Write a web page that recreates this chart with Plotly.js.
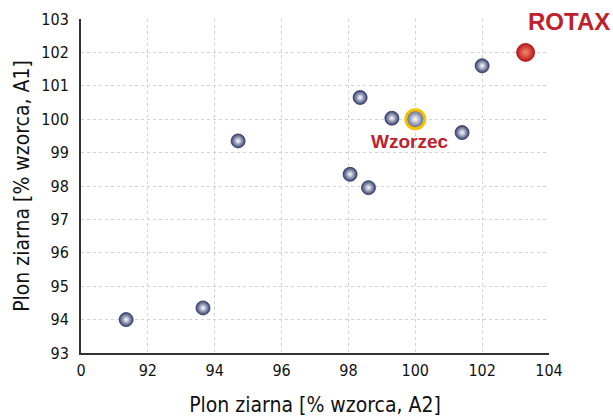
<!DOCTYPE html>
<html><head><meta charset="utf-8">
<script src="https://cdn.plot.ly/plotly-3.0.1.min.js"></script>
<style>body{margin:0;background:#fff}#c{width:613px;height:418px}</style>
</head><body><div id="c"></div>
<script>
const xVals = [91.35, 93.65, 94.7, 98.05, 98.6, 98.35, 99.3, 101.4, 102.0];
const yVals = [94.0, 94.35, 99.35, 98.35, 97.95, 100.65, 100.03, 99.6, 101.6];
const refX = [100.0], refY = [100.0], refLabel = ['Wzorzec'];
const rotX = [103.3], rotY = [102.0], rotLabel = ['ROTAX'];
const xTicks = [90, 92, 94, 96, 98, 100, 102, 104];
const xTickText = ['0', '92', '94', '96', '98', '100', '102', '104'];
const yTicks = [93, 94, 95, 96, 97, 98, 99, 100, 101, 102, 103];

const FONT = '"DejaVu Sans Condensed", "Liberation Sans Narrow", sans-serif';
const traces = [
  {x: xVals, y: yVals, mode: 'markers', type: 'scatter',
   marker: {size: 14, color: '#333f70', gradient: {type: 'radial', color: '#ffffff'},
            line: {color: '#2c3560', width: 0.8}}},
  {x: refX, y: refY, mode: 'markers', type: 'scatter',
   marker: {size: 19, color: '#4a5585', gradient: {type: 'radial', color: '#ffffff'},
            line: {color: '#f3c300', width: 3}}},
  {x: rotX, y: rotY, mode: 'markers', type: 'scatter',
   marker: {size: 18, color: '#c0151b', gradient: {type: 'radial', color: '#ee8a6a'},
            line: {color: '#a51015', width: 0.8}}}
];
const layout = {
  width: 613, height: 418, showlegend: false,
  margin: {l: 81, r: 64, t: 19, b: 65},
  paper_bgcolor: '#fff', plot_bgcolor: '#fff',
  font: {family: FONT, color: '#111'},
  xaxis: {range: [90, 104], tickvals: xTicks, ticktext: xTickText,
          showgrid: true, gridcolor: '#d2d2d2', griddash: 'dot', gridwidth: 1,
          showline: true, linecolor: '#333', linewidth: 2, zeroline: false,
          ticks: '', tickfont: {size: 16, family: FONT}, ticklabelstandoff: 2,
          title: {text: 'Plon ziarna [% wzorca, A2]', font: {size: 21, family: FONT}, standoff: 18}},
  yaxis: {range: [93, 103], tickvals: yTicks,
          showgrid: true, gridcolor: '#d2d2d2', griddash: 'dot', gridwidth: 1,
          showline: true, linecolor: '#333', linewidth: 2, zeroline: false,
          ticks: '', tickfont: {size: 16, family: FONT}, ticklabelstandoff: 7,
          title: {text: 'Plon ziarna [% wzorca, A1]', font: {size: 21, family: FONT}, standoff: 6}},
  annotations: [
    {x: refX[0], y: refY[0], text: '<b>' + refLabel[0] + '</b>', showarrow: false,
     xshift: -5, yshift: -22, font: {size: 19, color: '#c0202a', family: 'Liberation Sans, Arial, sans-serif'}},
    {x: rotX[0], y: rotY[0], text: '<b>' + rotLabel[0] + '</b>', showarrow: false,
     xshift: 43, yshift: 31, font: {size: 24, color: '#c0202a', family: 'Liberation Sans, Arial, sans-serif'}}
  ]
};
Plotly.newPlot('c', traces, layout, {displayModeBar: false, staticPlot: true});
</script></body></html>
